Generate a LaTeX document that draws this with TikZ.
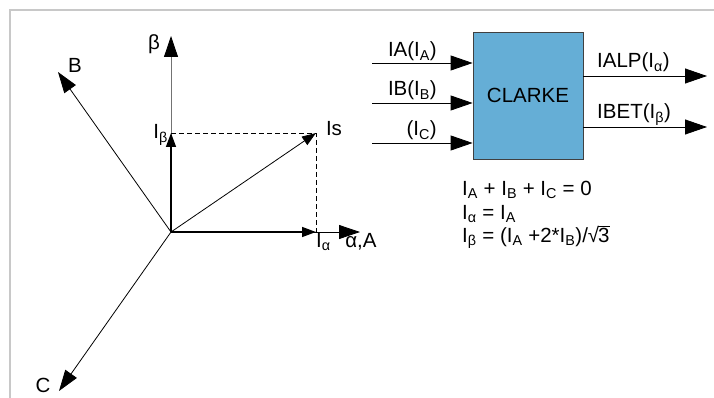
\documentclass[tikz,border=0pt]{standalone}
\usepackage{fontspec}
\setmainfont{Liberation Sans}
\usetikzlibrary{arrows.meta}

\definecolor{clarkeblue}{RGB}{101,174,214}
\definecolor{framegray}{RGB}{200,200,200}
\newcommand{\lo}[1]{\textsubscript{#1}}
\newcommand{\rootof}[1]{√\kern-0.05em\makebox[0pt][l]{\rule[0.74em]{0.6em}{0.05em}}#1}

\begin{document}
\begin{tikzpicture}[x=1pt,y=-1pt,font=\fontsize{20.5}{24}\selectfont]
\useasboundingbox (0,0) rectangle (714,398);
\draw[framegray,line width=2pt] (10,398) -- (10,10) -- (714,10);

% vector diagram
\coordinate (O) at (171,232);
\coordinate (beta) at (171,36);
\coordinate (alpha) at (360,232);
\coordinate (Ib) at (171,133);
\coordinate (Ia) at (316,232);
\coordinate (Is) at (316,133);
\coordinate (B) at (58,72);
\coordinate (C) at (59,391);

\begin{scope}[every node/.style={inner sep=0pt}]
    \node (lbeta) at (154,44) {β};
    \node (lalpha) at (361,242) {α,A};
    \node (lIb) [anchor=east] at (168,135) {I\lo{β}};
    \node (lIa) [anchor=north west] at (316,233) {I\lo{α}};
    \node (lIs) at (334,129) {Is};
    \node (lB) at (75,65) {B};
    \node (lC) at (43,385) {C};
\end{scope}

\begin{scope}[>={Triangle[length=21pt,width=14pt,black]},
              every edge/.style={draw,line width=0.8pt}]
    \path [->] (O) edge[draw=black!55] (beta);
    \path [->] (O) edge (alpha);
    \path [->] (O) edge (B);
    \path [->] (O) edge (C);
\end{scope}

\begin{scope}[>={Triangle[length=14pt,width=10pt]},
              every edge/.style={draw,line width=1.4pt}]
    \path [->] (O) edge (Ib);
    \path [->] (O) edge (Ia);
    \path [->] (O) edge[line width=0.8pt] (Is);
\end{scope}
\draw[dash pattern=on 5pt off 3pt,line width=0.8pt] (Ib) -- (Is) -- (Ia);

% Clarke block
\node (clarke) [draw=black!75,fill=clarkeblue,line width=0.8pt,
    minimum width=110pt,minimum height=127pt] at (528,95.5) {CLARKE};

\coordinate (inA) at (372,63);
\coordinate (inB) at (372,103);
\coordinate (inC) at (372,143);
\coordinate (outA) at (707,76);
\coordinate (outB) at (707,127);

\begin{scope}[every node/.style={inner sep=0pt}]
    \node (lIA) [anchor=base east] at (437,57) {IA(I\lo{A})};
    \node (lIB) [anchor=base east] at (437,96) {IB(I\lo{B})};
    \node (lIC) [anchor=base east] at (437,136) {(I\lo{C})};
    \node (lALP) [anchor=base west] at (597,68) {IALP(I\lo{α})};
    \node (lBET) [anchor=base west] at (597,119) {IBET(I\lo{β})};
    \node (eq1) [anchor=base west] at (462,195) {I\lo{A} + I\lo{B} + I\lo{C} = 0};
    \node (eq2) [anchor=base west] at (462,219) {I\lo{α} = I\lo{A}};
    \node (eq3) [anchor=base west] at (462,242)
        {I\lo{β} = (I\lo{A} +2*I\lo{B})/\rootof{3}};
\end{scope}

\begin{scope}[>={Triangle[length=22pt,width=15pt]},
              every edge/.style={draw,line width=0.8pt}]
    \path [->] (inA) edge (inA -| clarke.west);
    \path [->] (inB) edge (inB -| clarke.west);
    \path [->] (inC) edge (inC -| clarke.west);
    \path [->] (outA -| clarke.east) edge (outA);
    \path [->] (outB -| clarke.east) edge (outB);
\end{scope}
\end{tikzpicture}
\end{document}
